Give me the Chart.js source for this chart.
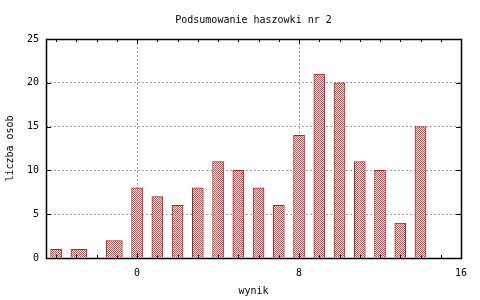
<!DOCTYPE html>
<html>
<head>
<meta charset="utf-8">
<script src="https://cdn.jsdelivr.net/npm/chart.js@4/dist/chart.umd.min.js"></script>
<style>
  html, body { margin: 0; padding: 0; background: #fff; }
  canvas { display: block; }
</style>
</head>
<body>
<canvas id="myChart" width="480" height="300"></canvas>
<script>
// wyniki (x) i liczba osob (y)
const scores = [-4, 0, 1, 2, 3, 4, 5, 6, 7, 8, 9, 10, 11, 12, 13, 14]
const counts = [1, 8, 7, 6, 8, 11, 10, 8, 6, 14, 21, 20, 11, 10, 4, 15]
// two wider boxes on the left
const wideScores = [-2.875, -1.125]
const wideCounts = [1, 2]
const xTickValues = [0, 8, 16]
const yTickValues = [0, 5, 10, 15, 20, 25]

const monoFont = { family: "'DejaVu Sans Mono', 'Liberation Mono', monospace", size: 10 }
const barRed = '#b22222'

function makePattern() {
    const c = document.createElement('canvas')
    c.width = 2
    c.height = 2
    const g = c.getContext('2d')
    g.fillStyle = '#ffffff'
    g.fillRect(0, 0, 2, 2)
    g.fillStyle = '#d04848'
    g.fillRect(0, 0, 1, 1)
    g.fillRect(1, 1, 1, 1)
    return g.createPattern(c, 'repeat')
}
const pattern = makePattern()

function toPoints(xs, ys) {
    const pts = []
    for (let i = 0; i < xs.length; i++) {
        pts.push({ x: xs[i], y: ys[i] })
    }
    return pts
}

// border box + small inward ticks, like gnuplot
const framePlugin = {
    id: 'frame',
    afterDatasetsDraw(chart) {
        const { ctx, chartArea: a, scales } = chart
        ctx.save()
        ctx.strokeStyle = '#000'
        ctx.lineWidth = 1
        ctx.beginPath()
        // minor ticks every unit on x
        for (let v = -4; v <= 16; v++) {
            const px = Math.round(scales.x.getPixelForValue(v)) + 0.5
            const len = xTickValues.includes(v) ? 5 : 3
            ctx.moveTo(px, a.top)
            ctx.lineTo(px, a.top + len)
            ctx.moveTo(px, a.bottom)
            ctx.lineTo(px, a.bottom - len)
        }
        yTickValues.forEach(v => {
            const py = Math.round(scales.y.getPixelForValue(v)) + 0.5
            ctx.moveTo(a.left, py)
            ctx.lineTo(a.left + 5, py)
            ctx.moveTo(a.right, py)
            ctx.lineTo(a.right - 5, py)
        })
        ctx.stroke()
        ctx.lineWidth = 1.5
        ctx.strokeRect(Math.round(a.left) + 0.5, Math.round(a.top) + 0.5,
            Math.round(a.right - a.left), Math.round(a.bottom - a.top))
        ctx.restore()
    }
}

function xGridColor(ctx) {
    const v = ctx.tick ? ctx.tick.value : null
    if (v === 16) return 'rgba(0,0,0,0)'
    return '#a0a0a0'
}
function yGridColor(ctx) {
    const v = ctx.tick ? ctx.tick.value : null
    if (v === 0 || v === 25) return 'rgba(0,0,0,0)'
    return '#a0a0a0'
}

new Chart(document.getElementById('myChart'), {
    type: 'bar',
    data: {
        datasets: [{
            data: toPoints(scores, counts),
            backgroundColor: pattern,
            borderColor: barRed,
            borderWidth: 1,
            barThickness: 11,
            grouped: false
        }, {
            data: toPoints(wideScores, wideCounts),
            backgroundColor: pattern,
            borderColor: barRed,
            borderWidth: 1,
            barThickness: 16,
            grouped: false
        }]
    },
    options: {
        responsive: false,
        animation: false,
        layout: { padding: { left: 0, right: 19, top: 0, bottom: 0 } },
        plugins: {
            legend: { display: false },
            tooltip: { enabled: false },
            title: { display: false }
        },
        scales: {
            x: {
                type: 'linear',
                min: -4.5,
                max: 16,
                offset: false,
                afterBuildTicks: scale => {
                    scale.ticks = xTickValues.map(v => ({ value: v }))
                },
                afterFit: scale => { scale.height = 42 },
                grid: {
                    color: xGridColor,
                    lineWidth: 1,
                    offset: false,
                    drawTicks: false
                },
                border: { display: false, dash: [2, 2] },
                ticks: {
                    color: '#000',
                    font: monoFont,
                    padding: 9,
                    maxRotation: 0,
                    callback: v => String(v)
                },
                title: {
                    display: true,
                    text: 'wynik',
                    color: '#000',
                    font: monoFont,
                    padding: { top: 0, bottom: 3 }
                }
            },
            // top axis only carries the chart title, centred over the plot
            xTop: {
                type: 'linear',
                position: 'top',
                min: -4.5,
                max: 16,
                offset: false,
                afterFit: scale => { scale.height = 39 },
                grid: { display: false, drawTicks: false },
                border: { display: false },
                ticks: { display: false },
                title: {
                    display: true,
                    text: 'Podsumowanie haszowki nr 2',
                    color: '#000',
                    font: monoFont,
                    padding: { top: 14, bottom: 0 }
                }
            },
            y: {
                min: 0,
                max: 25,
                afterBuildTicks: scale => {
                    scale.ticks = yTickValues.map(v => ({ value: v }))
                },
                afterFit: scale => { scale.width = 46 },
                grid: {
                    color: yGridColor,
                    lineWidth: 1,
                    drawTicks: false
                },
                border: { display: false, dash: [2, 2] },
                ticks: {
                    color: '#000',
                    font: monoFont,
                    padding: 7
                },
                title: {
                    display: true,
                    text: 'liczba osob',
                    color: '#000',
                    font: monoFont,
                    padding: { top: 4, bottom: 0 }
                }
            }
        }
    },
    plugins: [framePlugin]
})
</script>
</body>
</html>
